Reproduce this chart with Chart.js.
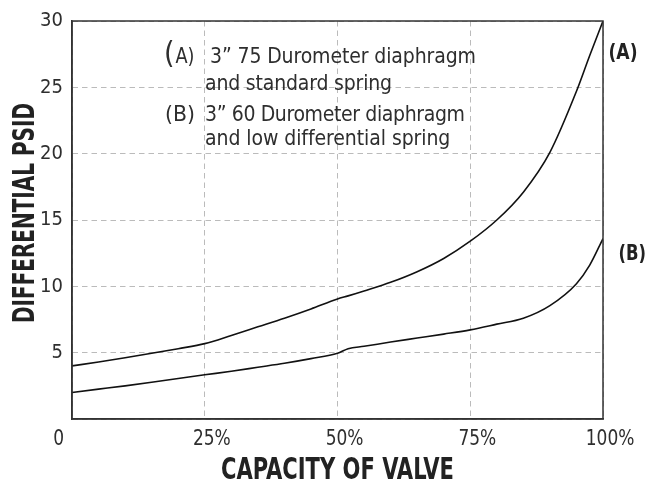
<!DOCTYPE html>
<html>
<head>
<meta charset="utf-8">
<script src="https://cdn.jsdelivr.net/npm/chart.js@4.4.1/dist/chart.umd.min.js"></script>
<style>
  html, body { margin: 0; padding: 0; background: #fff; }
  #wrap { width: 655px; height: 482px; }
</style>
</head>
<body>
<div id="wrap"><canvas id="c" width="655" height="482"></canvas></div>
<script>
// ---- data ----
const capacity = [0, 5, 10, 15, 20, 25, 30, 35, 40, 45, 50, 52, 55, 60, 65, 70, 75, 80, 85, 90, 95, 97.5, 100];
const seriesA  = [4.0, 4.3, 4.62, 4.95, 5.3, 5.68, 6.3, 6.95, 7.6, 8.3, 9.05, 9.28, 9.65, 10.3, 11.1, 12.1, 13.4, 15.0, 17.1, 20.1, 24.7, 27.4, 30.0];
const seriesB  = [2.0, 2.25, 2.5, 2.77, 3.05, 3.33, 3.6, 3.9, 4.2, 4.55, 4.95, 5.3, 5.48, 5.8, 6.1, 6.4, 6.72, 7.15, 7.6, 8.55, 10.2, 11.6, 13.6];
const seriesNames = ['(A)', '(B)'];
const xTickValues = [0, 25, 50, 75, 100];
const xTickLabels = ['0', '25%', '50%', '75%', '100%'];
const yTickValues = [5, 10, 15, 20, 25, 30];
const xTitle = 'CAPACITY OF VALVE';
const yTitle = 'DIFFERENTIAL PSID';
const noteA = ['A)', '3\u201D 75 Durometer diaphragm', 'and standard spring'];
const noteB = ['(B)', '3\u201D 60 Durometer diaphragm', 'and low differential spring'];

const NARROW = "'DejaVu Sans Condensed', 'Liberation Sans', sans-serif";
const TEXT = '#2e2e2e';

function fitText(ctx, text, x, y, target, opts) {
  ctx.save();
  ctx.font = opts.font;
  ctx.fillStyle = opts.color || TEXT;
  ctx.textBaseline = 'alphabetic';
  ctx.textAlign = 'left';
  const w = ctx.measureText(text).width;
  if (opts.spacing && 'letterSpacing' in ctx && text.length > 1) {
    const ls = (target - w) / (text.length - 1);
    ctx.letterSpacing = ls.toFixed(2) + 'px';
    ctx.fillText(text, x, y);
  } else {
    ctx.translate(x, y);
    ctx.scale(target / w, 1);
    ctx.fillText(text, 0, 0);
  }
  ctx.restore();
}

const textPlugin = {
  id: 'texts',
  afterDraw(chart) {
    const { ctx, chartArea: a, scales: { x, y } } = chart;
    // frame
    ctx.save();
    ctx.strokeStyle = '#333';
    ctx.lineWidth = 1.5;
    ctx.strokeRect(a.left, a.top, a.right - a.left, a.bottom - a.top);
    ctx.restore();

    // x tick labels
    const tf = '22px ' + NARROW;
    const squeeze = 0.86;
    ctx.save();
    ctx.font = tf;
    xTickValues.forEach((v, i) => {
      const lbl = xTickLabels[i];
      const px = x.getPixelForValue(v);
      const w = ctx.measureText(lbl).width * squeeze;
      if (i === 0) {
        fitText(ctx, lbl, a.left - 8 - w, 444.5, w, { font: tf });
      } else {
        const dw = ctx.measureText(lbl.replace('%', '')).width * squeeze;
        fitText(ctx, lbl, px - dw / 2 - 1, 444.5, w, { font: tf });
      }
    });
    ctx.restore();

    // axis titles
    const titleFont = 'bold 31px ' + NARROW;
    const cx = (a.left + a.right) / 2;
    fitText(ctx, xTitle, cx - 116.5, 479, 233, { font: titleFont, color: '#222' });
    ctx.save();
    ctx.translate(33.5, 213);
    ctx.rotate(-Math.PI / 2);
    fitText(ctx, yTitle, -110, 0, 220, { font: titleFont, color: '#222' });
    ctx.restore();

    // notes
    const nf = '21px ' + NARROW;
    ctx.save();
    ctx.font = '30px ' + NARROW;
    ctx.fillStyle = TEXT;
    ctx.fillText('(', 164, 63);
    ctx.restore();
    fitText(ctx, noteA[0], 175.5, 62.5, 19, { font: nf });
    fitText(ctx, noteA[1], 210, 62.5, 266, { font: nf, spacing: true });
    fitText(ctx, noteA[2], 205, 89.5, 187, { font: nf, spacing: true });
    fitText(ctx, noteB[0], 165, 121, 30, { font: nf });
    fitText(ctx, noteB[1], 205, 121, 260, { font: nf, spacing: true });
    fitText(ctx, noteB[2], 205, 145, 245, { font: nf, spacing: true });

    // series end labels
    const bf = 'bold 21px ' + NARROW;
    chart.data.datasets.forEach((ds, i) => {
      const meta = chart.getDatasetMeta(i);
      const last = meta.data[meta.data.length - 1];
      const lx = i === 0 ? last.x + 5.5 : last.x + 15.5;
      const ly = i === 0 ? last.y + 37.5 : last.y + 21;
      fitText(ctx, ds.label, lx, ly, i === 0 ? 29 : 27.5, { font: bf, color: '#222' });
    });
  }
};

const gridStyle = { color: '#bbbbbb', lineWidth: 1, drawTicks: false };

new Chart(document.getElementById('c'), {
  type: 'line',
  data: {
    datasets: [
      { label: seriesNames[0], data: capacity.map((c, i) => ({ x: c, y: seriesA[i] })) },
      { label: seriesNames[1], data: capacity.map((c, i) => ({ x: c, y: seriesB[i] })) }
    ].map(d => Object.assign(d, {
      borderColor: '#111', borderWidth: 1.6, pointRadius: 0, fill: false,
      cubicInterpolationMode: 'monotone'
    }))
  },
  options: {
    responsive: false,
    animation: false,
    devicePixelRatio: 1,
    layout: { padding: { left: 0, top: 21, right: 52, bottom: 0 } },
    plugins: { legend: { display: false }, tooltip: { enabled: false } },
    scales: {
      x: {
        type: 'linear', min: 0, max: 100,
        ticks: { display: false, stepSize: 25 },
        afterBuildTicks: s => { s.ticks = xTickValues.map(v => ({ value: v })); },
        grid: gridStyle,
        border: { display: true, color: '#333', width: 1.5, dash: [5.5, 4] },
        afterFit: s => { s.height = 63; }
      },
      y: {
        type: 'linear', min: 0, max: 30,
        afterBuildTicks: s => { s.ticks = [0].concat(yTickValues).map(v => ({ value: v })); },
        ticks: {
          callback: v => (v === 0 ? '' : String(v)),
          font: { family: NARROW, size: 20 },
          color: TEXT, padding: 9
        },
        grid: gridStyle,
        border: { display: true, color: '#333', width: 1.5, dash: [5.5, 4] },
        afterFit: s => { s.width = 72; }
      }
    }
  },
  plugins: [textPlugin]
});
</script>
</body>
</html>
